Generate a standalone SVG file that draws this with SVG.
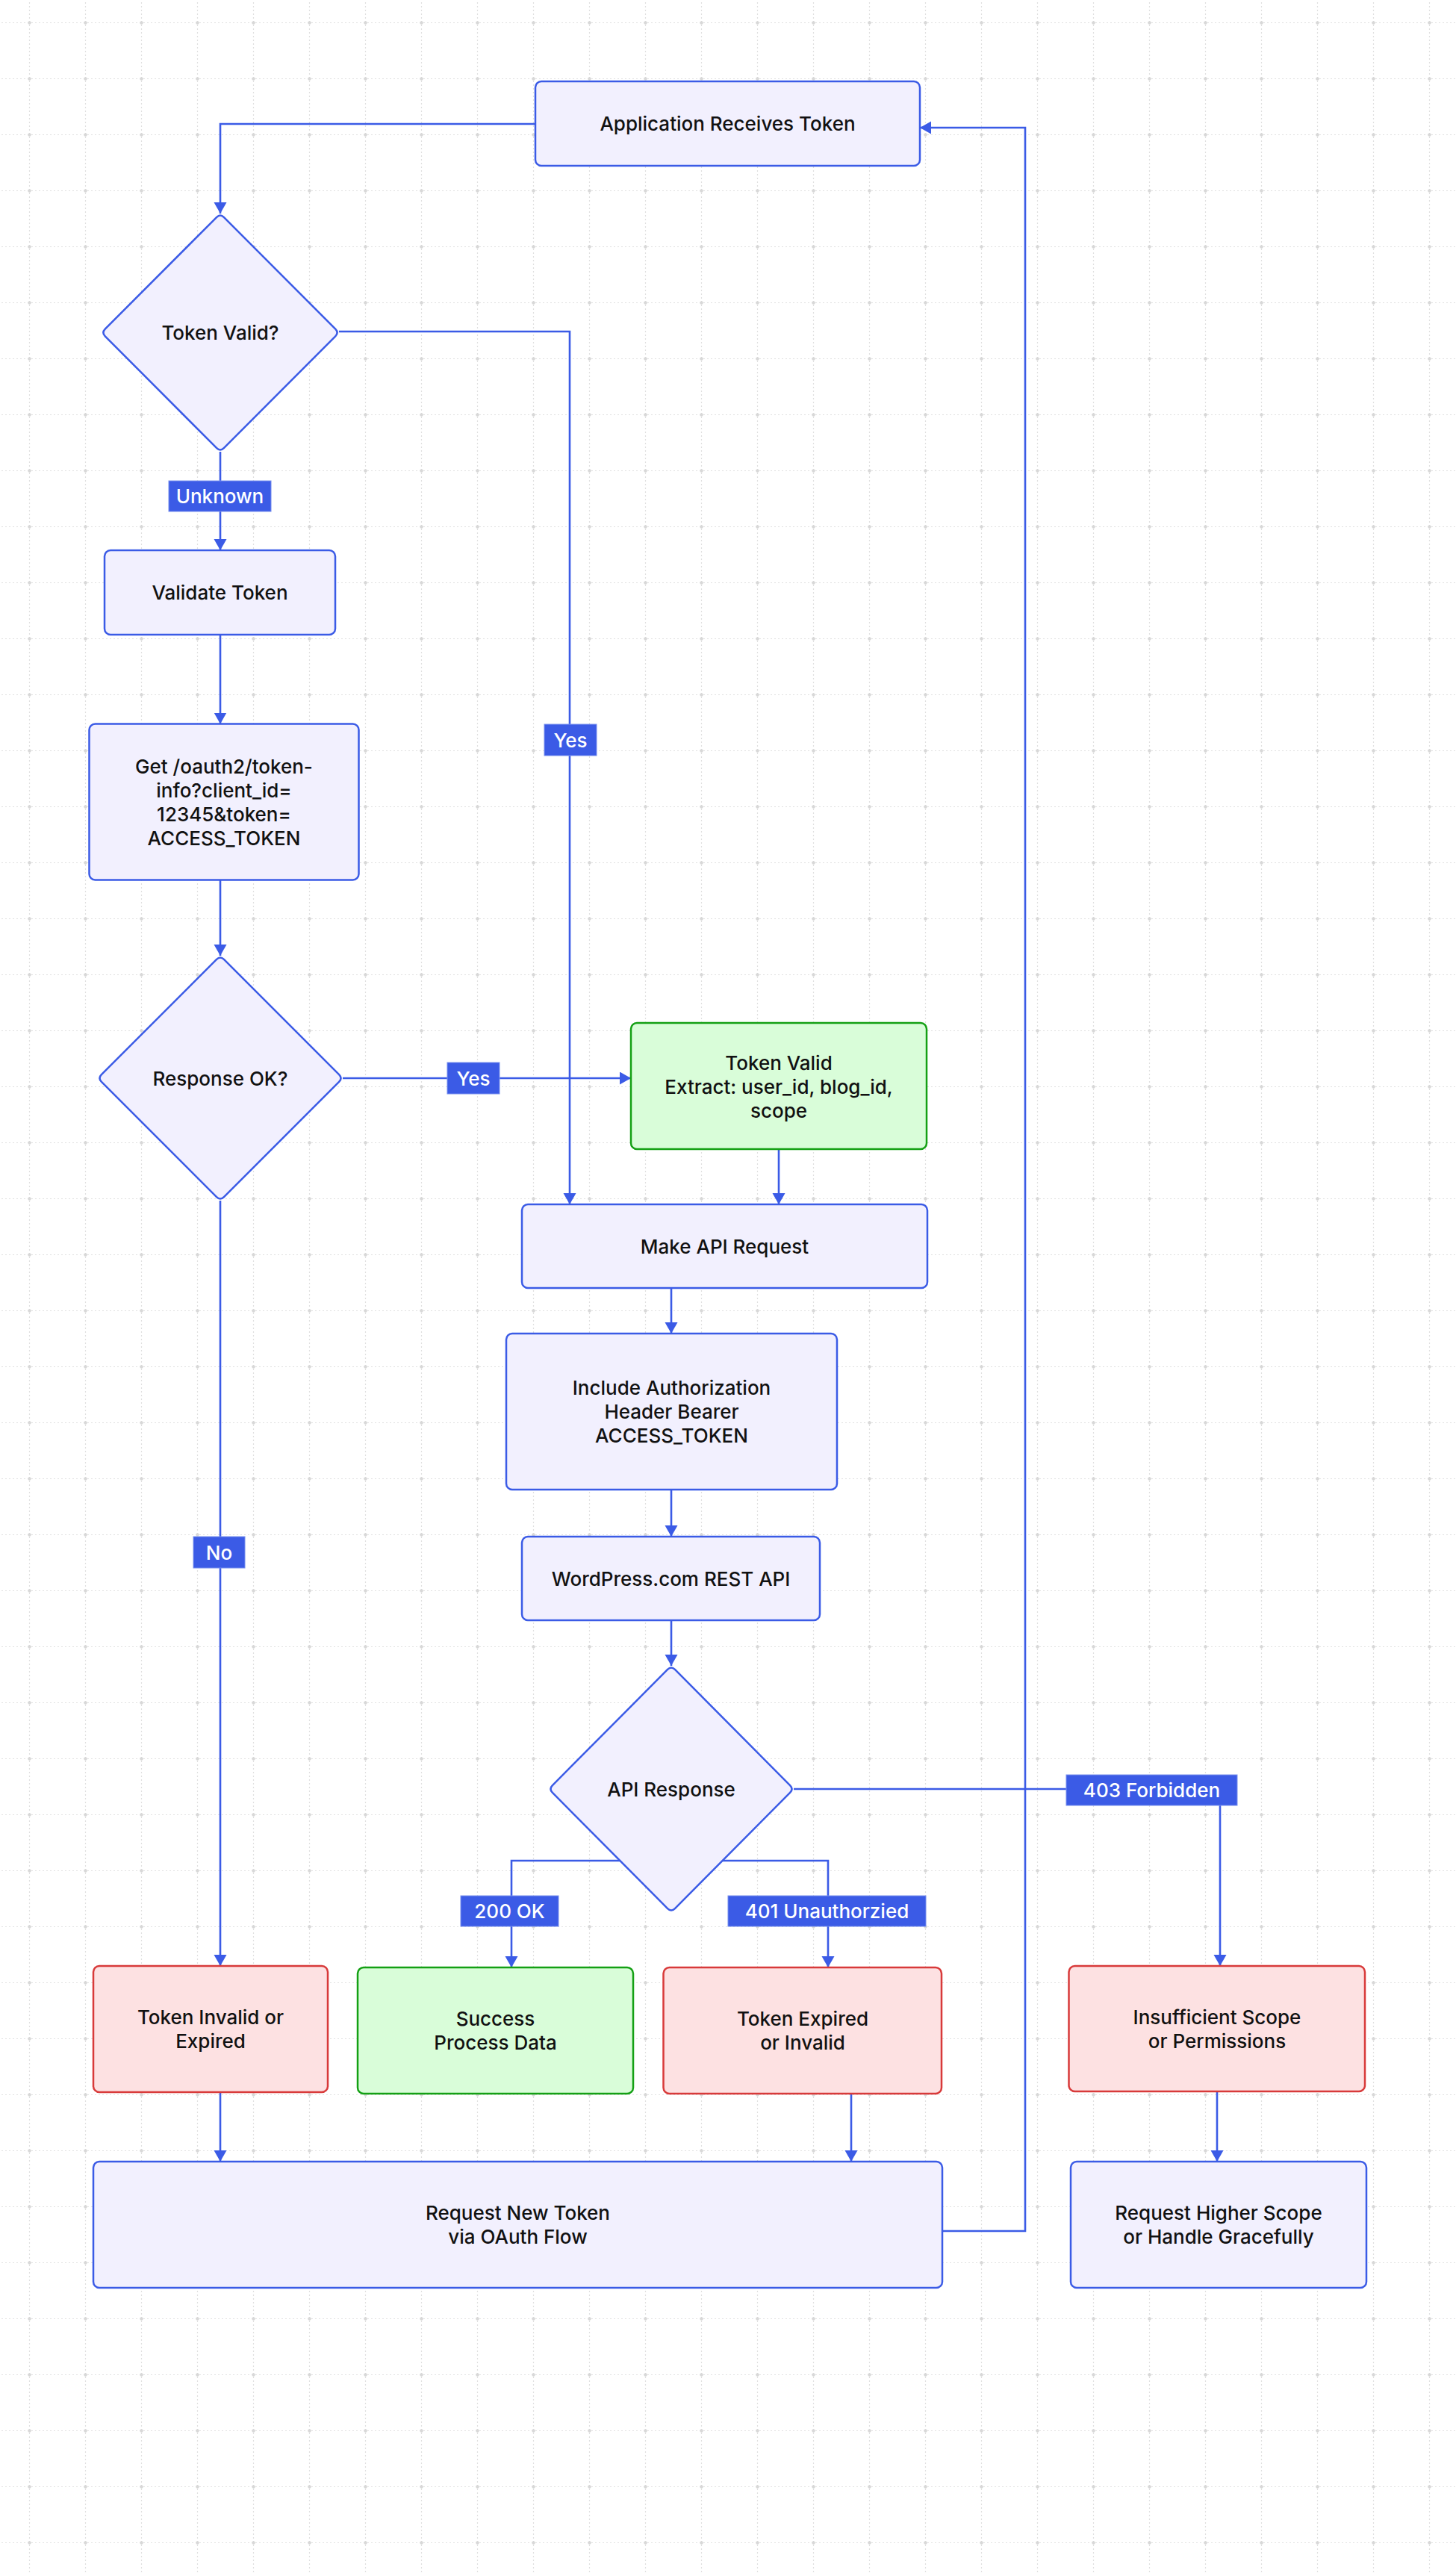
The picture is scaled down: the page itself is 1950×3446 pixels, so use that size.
<svg xmlns="http://www.w3.org/2000/svg" width="1950" height="3446" viewBox="0 0 1950 3446">
<defs>
<pattern id="grid" patternUnits="userSpaceOnUse" x="2" y="-7" width="75" height="75">
<path d="M37.5 0V75M0 37.5H75" stroke="#e0e0e0" stroke-width="1.2" stroke-dasharray="2 3" fill="none"/>
<circle cx="37.5" cy="37.5" r="2.2" fill="#d8d8d8"/>
</pattern>
<marker id="arr" markerUnits="userSpaceOnUse" markerWidth="16" markerHeight="18" refX="15" refY="8.5" orient="auto">
<path d="M0 0L15 8.5L0 17Z" fill="#3b5be6"/>
</marker>
<style>
.n{fill:#f2f0fe;stroke:#3b5be6;stroke-width:2.5}
.g{fill:#d9fdd9;stroke:#14a014;stroke-width:2.5}
.r{fill:#fde1e2;stroke:#d83a3a;stroke-width:2.5}
.t{font-family:Inter,"Liberation Sans",sans-serif;font-size:26px;font-weight:500;fill:#111;text-anchor:middle}
.c{fill:none;stroke:#3b5be6;stroke-width:2.6;marker-end:url(#arr)}
.lb{fill:#3b5be6;stroke:#7990ee;stroke-width:1}
.lt{font-family:Inter,"Liberation Sans",sans-serif;font-size:26px;font-weight:500;fill:#fff;text-anchor:middle}
</style>
</defs>
<rect width="1950" height="3446" fill="#fff"/>
<rect width="1950" height="3446" fill="url(#grid)"/>

<g id="connectors">
<path class="c" d="M717 166H295V286"/>
<path class="c" d="M295 605V737"/>
<path class="c" d="M454 444H763V1613"/>
<path class="c" d="M295 850V969.5"/>
<path class="c" d="M295 1178.5V1280"/>
<path class="c" d="M459 1444H845"/>
<path class="c" d="M295 1608V2633"/>
<path class="c" d="M1043 1539V1613"/>
<path class="c" d="M899 1725V1786"/>
<path class="c" d="M899 1995V2058"/>
<path class="c" d="M899 2170V2231"/>
<path class="c" d="M830.4 2492H685V2635"/>
<path class="c" d="M967.6 2492H1109V2635"/>
<path class="c" d="M1063 2396H1634V2633"/>
<path class="c" d="M295 2802V2895"/>
<path class="c" d="M1140 2804V2895"/>
<path class="c" d="M1630 2801V2895"/>
<path class="c" d="M1262 2988H1373V171H1232"/>
<g id="labels">
<rect class="lb" x="226" y="644" width="137" height="41"/><text class="lt" x="294.5" y="674">Unknown</text>
<rect class="lb" x="729" y="970" width="70" height="42"/><text class="lt" x="764" y="1000.5">Yes</text>
<rect class="lb" x="599" y="1423" width="70" height="42"/><text class="lt" x="634" y="1453.5">Yes</text>
<rect class="lb" x="259" y="2058" width="69" height="42"/><text class="lt" x="293.5" y="2088.5">No</text>
<rect class="lb" x="617" y="2539" width="131" height="41"/><text class="lt" x="682.5" y="2569">200 OK</text>
<rect class="lb" x="975" y="2539" width="265" height="41"/><text class="lt" x="1107.5" y="2569">401 Unauthorzied</text>
<rect class="lb" x="1428" y="2377" width="229" height="41"/><text class="lt" x="1542.5" y="2407">403 Forbidden</text>
</g>
</g>

<g id="app"><rect class="n" x="717" y="109" width="515" height="113" rx="8"/><text class="t" x="974.5" y="175">Application Receives Token</text></g>
<g id="tokenValidQ"><path class="n" d="M290.23 290.79Q295 286 299.77 290.79L449.23 440.71Q454 445.5 449.23 450.29L299.77 600.21Q295 605 290.23 600.21L140.77 450.29Q136 445.5 140.77 440.71Z"/><text class="t" x="295" y="455">Token Valid?</text></g>
<g id="validate"><rect class="n" x="140" y="737" width="309" height="113" rx="8"/><text class="t" x="294.5" y="803">Validate Token</text></g>
<g id="getInfo"><rect class="n" x="119.5" y="969.5" width="361" height="209" rx="8"/>
<text class="t" x="300" y="1035.5">Get /oauth2/token-</text>
<text class="t" x="300" y="1067.5">info?client_id=</text>
<text class="t" x="300" y="1099.5">12345&amp;token=</text>
<text class="t" x="300" y="1131.5">ACCESS_TOKEN</text></g>
<g id="responseOk"><path class="n" d="M290.08 1284.92Q295 1280 299.92 1284.92L454.08 1439.08Q459 1444 454.08 1448.92L299.92 1603.08Q295 1608 290.08 1603.08L135.92 1448.92Q131 1444 135.92 1439.08Z"/><text class="t" x="295" y="1453.5">Response OK?</text></g>
<g id="tokenValidG"><rect class="g" x="845" y="1370" width="396" height="169" rx="8"/>
<text class="t" x="1043" y="1432.5">Token Valid</text>
<text class="t" x="1043" y="1464.5">Extract: user_id, blog_id,</text>
<text class="t" x="1043" y="1496.5">scope</text></g>
<g id="makeApi"><rect class="n" x="699" y="1613" width="543" height="112" rx="8"/><text class="t" x="970.5" y="1678.5">Make API Request</text></g>
<g id="include"><rect class="n" x="678" y="1786" width="443" height="209" rx="8"/>
<text class="t" x="899.5" y="1868">Include Authorization</text>
<text class="t" x="899.5" y="1900">Header Bearer</text>
<text class="t" x="899.5" y="1932">ACCESS_TOKEN</text></g>
<g id="wp"><rect class="n" x="699" y="2058" width="399" height="112" rx="8"/><text class="t" x="898.5" y="2123.5">WordPress.com REST API</text></g>
<g id="apiResp"><path class="n" d="M894.08 2235.95Q899 2231 903.92 2235.95L1058.08 2391.05Q1063 2396 1058.08 2400.95L903.92 2556.05Q899 2561 894.08 2556.05L739.92 2400.95Q735 2396 739.92 2391.05Z"/><text class="t" x="899" y="2405.5">API Response</text></g>
<g id="tokenInvalid"><rect class="r" x="125" y="2633" width="314" height="169" rx="8"/>
<text class="t" x="282" y="2711">Token Invalid or</text>
<text class="t" x="282" y="2743">Expired</text></g>
<g id="success"><rect class="g" x="479" y="2635" width="369" height="169" rx="8"/>
<text class="t" x="663.5" y="2713">Success</text>
<text class="t" x="663.5" y="2745">Process Data</text></g>
<g id="tokenExpired"><rect class="r" x="888.5" y="2635" width="372.5" height="169" rx="8"/>
<text class="t" x="1075" y="2713">Token Expired</text>
<text class="t" x="1075" y="2745">or Invalid</text></g>
<g id="insufficient"><rect class="r" x="1431.5" y="2633" width="396.5" height="168" rx="8"/>
<text class="t" x="1630" y="2710.5">Insufficient Scope</text>
<text class="t" x="1630" y="2742.5">or Permissions</text></g>
<g id="requestNew"><rect class="n" x="125" y="2895" width="1137" height="169" rx="8"/>
<text class="t" x="693.5" y="2973">Request New Token</text>
<text class="t" x="693.5" y="3005">via OAuth Flow</text></g>
<g id="higher"><rect class="n" x="1434" y="2895" width="396" height="169" rx="8"/>
<text class="t" x="1632" y="2973">Request Higher Scope</text>
<text class="t" x="1632" y="3005">or Handle Gracefully</text></g>
</svg>
